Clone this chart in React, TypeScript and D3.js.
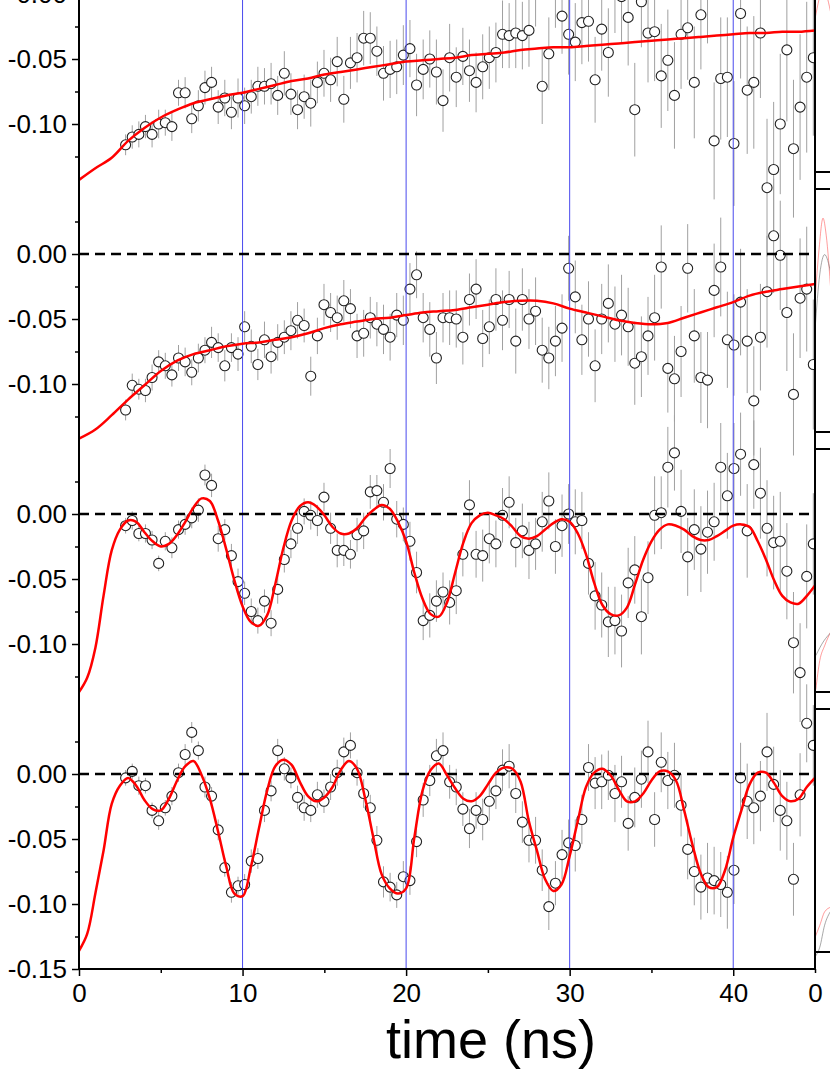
import React, { useEffect, useRef } from "react";
import * as d3 from "d3";

const WIDTH = 830;
const HEIGHT = 1075;
const FONT = "Liberation Sans, Arial, Helvetica, sans-serif";

// delay of the first measured point and spacing of the points (ns)
const T_FIRST = 2.85;
const T_STEP = 0.4043;

// measured points, one array per panel (top to bottom)
const data1 = [
  -0.116, -0.110, -0.108, -0.102, -0.108, -0.100, -0.099, -0.102, -0.076, -0.076,
  -0.096, -0.086, -0.072, -0.068, -0.087, -0.080, -0.091, -0.080, -0.086, -0.079,
  -0.071, -0.071, -0.069, -0.078, -0.061, -0.077, -0.089, -0.079, -0.084, -0.068,
  -0.061, -0.066, -0.052, -0.081, -0.053, -0.049, -0.034, -0.034, -0.044, -0.061,
  -0.058, -0.056, -0.047, -0.042, -0.070, -0.058, -0.050, -0.060, -0.082, -0.049,
  -0.064, -0.048, -0.059, -0.068, -0.056, -0.049, -0.045, -0.031, -0.032, -0.030,
  -0.032, -0.028, 0.002, -0.071, -0.046, 0.004, -0.017, -0.031, -0.037, -0.022,
  -0.021, -0.066, -0.027, -0.045, 0.003, -0.002, -0.018, -0.089, -0.006, -0.030,
  -0.029, -0.063, -0.051, -0.078, -0.031, -0.026, -0.068, -0.016, 0.006, -0.113,
  -0.065, -0.064, -0.115, -0.015, -0.074, -0.068, -0.030, -0.149, -0.135, -0.100,
  -0.043, -0.119, -0.087, -0.064, -0.049,
];
const data2 = [
  -0.120, -0.101, -0.104, -0.105, -0.095, -0.083, -0.086, -0.093, -0.080, -0.083,
  -0.091, -0.080, -0.074, -0.068, -0.072, -0.086, -0.072, -0.077, -0.056, -0.071,
  -0.085, -0.066, -0.079, -0.068, -0.064, -0.059, -0.051, -0.055, -0.094, -0.063,
  -0.039, -0.045, -0.049, -0.036, -0.042, -0.063, -0.061, -0.049, -0.054, -0.058,
  -0.064, -0.047, -0.051, -0.027, -0.016, -0.049, -0.058, -0.080, -0.049, -0.049,
  -0.050, -0.064, -0.035, -0.027, -0.065, -0.056, -0.035, -0.051, -0.035, -0.067,
  -0.035, -0.050, -0.044, -0.074, -0.080, -0.067, -0.057, -0.011, -0.033, -0.066,
  -0.050, -0.086, -0.050, -0.038, -0.054, -0.047, -0.056, -0.084, -0.079, -0.063,
  -0.049, -0.010, -0.088, -0.096, -0.075, -0.011, -0.063, -0.095, -0.097, -0.028,
  -0.010, -0.066, -0.070, -0.037, -0.067, -0.113, -0.064, -0.029, 0.014, -0.001,
  -0.045, -0.108, -0.034, -0.027, -0.085,
];
const data3 = [
  -0.009, -0.005, -0.015, -0.015, -0.020, -0.038, -0.021, -0.026, -0.012, -0.008,
  -0.003, 0.003, 0.030, 0.022, -0.019, -0.012, -0.032, -0.052, -0.061, -0.075,
  -0.082, -0.067, -0.084, -0.058, -0.035, -0.023, -0.011, 0.002, -0.001, -0.005,
  0.013, -0.011, -0.028, -0.028, -0.031, -0.016, -0.013, 0.017, 0.018, 0.009,
  0.035, -0.004, -0.008, -0.021, -0.045, -0.082, -0.078, -0.067, -0.060, -0.068,
  -0.059, -0.031, 0.007, -0.031, -0.032, -0.019, -0.023, -0.001, 0.009, -0.022,
  -0.013, -0.028, -0.023, -0.006, 0.010, -0.025, -0.009, 0.000, -0.006, -0.005,
  -0.038, -0.063, -0.070, -0.083, -0.082, -0.090, -0.053, -0.043, -0.079, -0.049,
  -0.001, 0.001, 0.036, 0.047, 0.002, -0.033, -0.012, -0.027, -0.014, -0.006,
  0.036, 0.014, 0.035, 0.046, -0.013, 0.038, 0.016, -0.011, -0.022, -0.021,
  -0.044, -0.099, -0.122, -0.048, -0.023,
];
const data4 = [
  -0.003, 0.002, -0.009, -0.009, -0.028, -0.036, -0.026, -0.017, 0.001, 0.015,
  0.032, 0.018, -0.010, -0.017, -0.043, -0.072, -0.091, -0.086, -0.085, -0.067,
  -0.065, -0.028, -0.013, 0.018, 0.004, -0.003, -0.018, -0.026, -0.028, -0.016,
  -0.021, -0.010, 0.001, 0.017, 0.022, 0.001, -0.015, -0.026, -0.051, -0.083,
  -0.087, -0.093, -0.079, -0.082, -0.052, -0.020, -0.005, 0.014, 0.018, -0.006,
  -0.010, -0.027, -0.042, -0.028, -0.035, -0.021, -0.013, 0.003, 0.006, -0.015,
  -0.037, -0.051, -0.051, -0.074, -0.102, -0.084, -0.062, -0.053, -0.055, -0.035,
  0.005, -0.007, -0.006, -0.001, -0.015, -0.006, -0.038, -0.018, -0.004, 0.017,
  -0.035, 0.009, -0.005, -0.001, -0.024, -0.058, -0.075, -0.087, -0.080, -0.082,
  -0.085, -0.091, -0.074, -0.003, -0.021, -0.026, -0.017, 0.017, -0.008, -0.028,
  -0.036, -0.081, -0.016, 0.039, 0.022,
];

// error bar half-lengths
const err1 = [
  0.008, 0.009, 0.010, 0.009, 0.010, 0.011, 0.010, 0.011, 0.010, 0.012,
  0.011, 0.012, 0.013, 0.012, 0.013, 0.014, 0.013, 0.015, 0.014, 0.013,
  0.015, 0.014, 0.016, 0.015, 0.017, 0.016, 0.015, 0.017, 0.018, 0.016,
  0.018, 0.017, 0.019, 0.018, 0.020, 0.019, 0.021, 0.020, 0.019, 0.021,
  0.022, 0.021, 0.023, 0.022, 0.024, 0.023, 0.022, 0.025, 0.024, 0.026,
  0.023, 0.022, 0.024, 0.023, 0.025, 0.024, 0.023, 0.026, 0.025, 0.027,
  0.026, 0.028, 0.027, 0.029, 0.028, 0.030, 0.029, 0.031, 0.030, 0.032,
  0.031, 0.033, 0.032, 0.034, 0.033, 0.035, 0.037, 0.036, 0.035, 0.038,
  0.038, 0.040, 0.039, 0.041, 0.042, 0.040, 0.043, 0.042, 0.044, 0.045,
  0.047, 0.046, 0.048, 0.050, 0.049, 0.051, 0.050, 0.053, 0.052, 0.054,
  0.055, 0.053, 0.056, 0.058, 0.060,
];
const err2 = [
  0.008, 0.009, 0.008, 0.009, 0.010, 0.009, 0.010, 0.009, 0.010, 0.011,
  0.010, 0.011, 0.010, 0.012, 0.011, 0.012, 0.011, 0.013, 0.012, 0.013,
  0.012, 0.014, 0.013, 0.014, 0.013, 0.015, 0.014, 0.013, 0.015, 0.014,
  0.016, 0.015, 0.017, 0.016, 0.015, 0.017, 0.018, 0.016, 0.017, 0.019,
  0.018, 0.017, 0.019, 0.020, 0.018, 0.019, 0.021, 0.020, 0.019, 0.021,
  0.022, 0.021, 0.020, 0.023, 0.022, 0.021, 0.024, 0.023, 0.022, 0.025,
  0.024, 0.023, 0.026, 0.025, 0.024, 0.027, 0.026, 0.025, 0.028, 0.027,
  0.029, 0.028, 0.027, 0.030, 0.029, 0.031, 0.030, 0.032, 0.031, 0.030,
  0.033, 0.032, 0.034, 0.033, 0.035, 0.034, 0.036, 0.035, 0.037, 0.036,
  0.038, 0.037, 0.039, 0.041, 0.040, 0.042, 0.041, 0.043, 0.044, 0.042,
  0.045, 0.047, 0.046, 0.048, 0.050,
];
const err3 = [
  0.006, 0.007, 0.006, 0.007, 0.007, 0.006, 0.007, 0.008, 0.007, 0.008,
  0.008, 0.009, 0.008, 0.009, 0.010, 0.008, 0.009, 0.010, 0.009, 0.010,
  0.010, 0.009, 0.010, 0.011, 0.010, 0.011, 0.012, 0.010, 0.011, 0.012,
  0.011, 0.012, 0.013, 0.012, 0.011, 0.013, 0.014, 0.013, 0.012, 0.014,
  0.015, 0.014, 0.013, 0.015, 0.016, 0.015, 0.017, 0.016, 0.015, 0.017,
  0.018, 0.017, 0.019, 0.018, 0.020, 0.019, 0.018, 0.021, 0.020, 0.019,
  0.021, 0.022, 0.020, 0.023, 0.022, 0.021, 0.024, 0.023, 0.025, 0.022,
  0.024, 0.026, 0.025, 0.027, 0.026, 0.028, 0.027, 0.026, 0.029, 0.028,
  0.030, 0.028, 0.031, 0.029, 0.032, 0.030, 0.031, 0.033, 0.032, 0.030,
  0.034, 0.033, 0.035, 0.032, 0.036, 0.034, 0.035, 0.037, 0.036, 0.038,
  0.037, 0.039, 0.038, 0.040, 0.039,
];
const err4 = [
  0.006, 0.006, 0.007, 0.006, 0.006, 0.007, 0.006, 0.007, 0.007, 0.008,
  0.008, 0.007, 0.008, 0.007, 0.008, 0.007, 0.008, 0.007, 0.008, 0.009,
  0.008, 0.009, 0.008, 0.009, 0.009, 0.008, 0.009, 0.010, 0.009, 0.010,
  0.009, 0.010, 0.010, 0.011, 0.010, 0.010, 0.011, 0.010, 0.011, 0.012,
  0.011, 0.010, 0.012, 0.011, 0.012, 0.013, 0.012, 0.013, 0.014, 0.013,
  0.014, 0.013, 0.015, 0.014, 0.016, 0.015, 0.014, 0.016, 0.017, 0.015,
  0.016, 0.017, 0.018, 0.016, 0.018, 0.017, 0.019, 0.018, 0.020, 0.019,
  0.018, 0.020, 0.021, 0.019, 0.022, 0.020, 0.021, 0.023, 0.022, 0.024,
  0.021, 0.023, 0.022, 0.025, 0.024, 0.023, 0.026, 0.025, 0.027, 0.026,
  0.025, 0.028, 0.026, 0.027, 0.029, 0.028, 0.027, 0.030, 0.029, 0.031,
  0.030, 0.028, 0.032, 0.030, 0.031,
];

// fitted curves: panels 1-2 read every 1 ns, panels 3-4 every 0.5 ns, from t = 0
const fit1 = [
  -0.143, -0.134, -0.126, -0.113, -0.103, -0.095, -0.089, -0.084, -0.081, -0.078,
  -0.076, -0.073, -0.070, -0.067, -0.065, -0.062, -0.060, -0.058, -0.056, -0.054,
  -0.052, -0.051, -0.050, -0.049, -0.047, -0.046, -0.045, -0.043, -0.042, -0.041,
  -0.041, -0.040, -0.039, -0.038, -0.037, -0.036, -0.035, -0.034, -0.033, -0.032,
  -0.031, -0.030, -0.030, -0.029, -0.029, -0.028,
];
const fit2 = [
  -0.142, -0.135, -0.124, -0.112, -0.101, -0.090, -0.082, -0.077, -0.074, -0.071,
  -0.069, -0.068, -0.066, -0.064, -0.061, -0.057, -0.054, -0.052, -0.050, -0.049,
  -0.047, -0.045, -0.044, -0.043, -0.041, -0.039, -0.037, -0.036, -0.036, -0.038,
  -0.042, -0.045, -0.048, -0.051, -0.053, -0.054, -0.053, -0.049, -0.045, -0.041,
  -0.037, -0.032, -0.029, -0.027, -0.025, -0.023,
];
const fit3 = [
  -0.137, -0.126, -0.103, -0.063, -0.028, -0.012, -0.005, -0.006, -0.014, -0.021,
  -0.025, -0.023, -0.016, -0.006, 0.005, 0.012, 0.010, -0.005, -0.027, -0.051,
  -0.071, -0.083, -0.086, -0.078, -0.054, -0.026, -0.005, 0.006, 0.009, 0.006,
  -0.001, -0.010, -0.015, -0.015, -0.011, -0.003, 0.003, 0.007, 0.004, -0.006,
  -0.021, -0.045, -0.065, -0.077, -0.079, -0.068, -0.045, -0.022, -0.007, -0.001,
  0.001, -0.001, -0.004, -0.010, -0.017, -0.019, -0.017, -0.012, -0.007, -0.004,
  -0.006, -0.015, -0.031, -0.053, -0.070, -0.077, -0.078, -0.072, -0.054, -0.035,
  -0.021, -0.012, -0.008, -0.009, -0.012, -0.017, -0.020, -0.020, -0.017, -0.013,
  -0.009, -0.008, -0.010, -0.021, -0.035, -0.051, -0.063, -0.068, -0.069, -0.063,
  -0.055,
];
const fit4 = [
  -0.136, -0.123, -0.092, -0.059, -0.023, -0.009, -0.003, -0.009, -0.020, -0.027,
  -0.028, -0.019, -0.005, 0.006, 0.010, -0.001, -0.019, -0.044, -0.071, -0.092,
  -0.094, -0.072, -0.042, -0.013, 0.006, 0.011, 0.007, -0.006, -0.017, -0.021,
  -0.018, -0.010, 0.003, 0.010, 0.004, -0.019, -0.049, -0.077, -0.088, -0.092,
  -0.088, -0.049, -0.013, 0.003, 0.008, -0.001, -0.011, -0.019, -0.021, -0.017,
  -0.008, 0.001, 0.005, 0.004, -0.006, -0.036, -0.059, -0.081, -0.090, -0.085,
  -0.063, -0.036, -0.010, 0.001, 0.004, -0.001, -0.012, -0.021, -0.021, -0.015,
  -0.005, 0.002, 0.002, -0.005, -0.028, -0.054, -0.076, -0.087, -0.087, -0.074,
  -0.049, -0.028, -0.008, 0.001, 0.001, -0.007, -0.017, -0.021, -0.019, -0.010,
  -0.003,
];

const xMajor = [0, 10, 20, 30, 40];
const xMinor = [5, 15, 25, 35, 45];
const gridTimes = [10, 20, 30, 40];
const yMajor = [-0.1, -0.05, 0];
const yMinor = [-0.125, -0.075, -0.025, 0.025];

// bit of the neighbouring plot showing at the right edge: [x, y] in its own 0..1 units
const nbPink = [
  [[0, 0.63], [0.25, 0.71], [0.5, 0.77], [0.8, 0.71], [1, 0.65]],
  [[0, 0.54], [0.25, 0.75], [0.5, 0.88], [0.7, 0.81], [1, 0.57]],
  [[0.05, 0.01], [0.3, 0.13], [0.6, 0.19], [1, 0.25]],
  [[0, 0.06], [0.3, 0.11], [0.6, 0.165], [1, 0.185]],
];
const nbGray = [
  [],
  [[0, 0.42], [0.3, 0.65], [0.6, 0.73], [1, 0.65]],
  [[0.05, 0.15], [0.55, 0.21], [1, 0.245]],
  [[0, -0.02], [0.3, 0.02], [0.6, 0.11], [1, 0.17]],
];

const App = () => {
  const svgRef = useRef(null);

  useEffect(() => {
    const svg = d3.select(svgRef.current);
    svg.selectAll("*").remove();

    const x = d3.scaleLinear().domain([0, 45]).range([79, 815]);
    const panelH = 260;
    // each panel spans -0.15..0.05, stacked with no gap
    const yPanel = (p) =>
      d3.scaleLinear().domain([-0.15, 0.05])
        .range([969 - panelH * (3 - p), 709 - panelH * (3 - p)]);

    const times = d3.range(data1.length).map((i) => T_FIRST + i * T_STEP);
    const panels = [
      { vals: data1, errs: err1, fit: fit1, step: 1 },
      { vals: data2, errs: err2, fit: fit2, step: 1 },
      { vals: data3, errs: err3, fit: fit3, step: 0.5 },
      { vals: data4, errs: err4, fit: fit4, step: 0.5 },
    ];

    svg.append("rect").attr("width", WIDTH).attr("height", HEIGHT).attr("fill", "#fff");

    svg.append("defs").append("clipPath").attr("id", "plot-clip")
      .append("rect").attr("x", 79).attr("y", -300).attr("width", 736).attr("height", 1269);

    const plot = svg.append("g").attr("clip-path", "url(#plot-clip)");

    // error bars first, so every circle sits above them
    panels.forEach((pn, p) => {
      const y = yPanel(p);
      plot.append("g")
        .selectAll("line")
        .data(pn.vals)
        .join("line")
        .attr("x1", (d, i) => x(times[i]))
        .attr("x2", (d, i) => x(times[i]))
        .attr("y1", (d, i) => y(d - pn.errs[i]))
        .attr("y2", (d, i) => y(d + pn.errs[i]))
        .attr("stroke", "#a0a0a0")
        .attr("stroke-width", 1);
    });

    panels.forEach((pn, p) => {
      const y = yPanel(p);
      plot.append("g")
        .selectAll("circle")
        .data(pn.vals)
        .join("circle")
        .attr("cx", (d, i) => x(times[i]))
        .attr("cy", (d) => y(d))
        .attr("r", 5)
        .attr("fill", "#fff")
        .attr("stroke", "#222")
        .attr("stroke-width", 1.1);
    });

    // vertical guide lines
    plot.selectAll(".grid")
      .data(gridTimes)
      .join("line")
      .attr("class", "grid")
      .attr("x1", (d) => x(d))
      .attr("x2", (d) => x(d))
      .attr("y1", 0)
      .attr("y2", 969)
      .attr("stroke", "#4a4aee")
      .attr("stroke-width", 1);

    panels.forEach((pn, p) => {
      const y = yPanel(p);
      // dashed zero line
      plot.append("line")
        .attr("x1", x(0)).attr("x2", x(45))
        .attr("y1", y(0)).attr("y2", y(0))
        .attr("stroke", "#000")
        .attr("stroke-width", 2.5)
        .attr("stroke-dasharray", "10,6");

      const fitT = d3.range(pn.fit.length).map((i) => i * pn.step);
      const line = d3.line()
        .x((d, i) => x(fitT[i]))
        .y((d) => y(d))
        .curve(d3.curveCatmullRom.alpha(0.5));
      plot.append("path")
        .datum(pn.fit)
        .attr("fill", "none")
        .attr("stroke", "#ff0000")
        .attr("stroke-width", 2.5)
        .attr("d", line);
    });

    // left axis: one tick set per panel
    panels.forEach((pn, p) => {
      const y = yPanel(p);
      const major = p === 3 ? [-0.15, ...yMajor] : yMajor;
      svg.append("g")
        .attr("transform", "translate(79,0)")
        .call(d3.axisLeft(y).tickValues(major).tickSize(7).tickPadding(5)
          .tickFormat((d) => d.toFixed(2)))
        .call((g) => g.select(".domain").remove())
        .attr("font-size", 26)
        .attr("font-family", FONT)
        .call((g) => g.selectAll("line").attr("stroke-width", 1.5));
      svg.append("g")
        .attr("transform", "translate(79,0)")
        .call(d3.axisLeft(y).tickValues(yMinor).tickSize(4).tickFormat(() => ""))
        .call((g) => g.select(".domain").remove())
        .call((g) => g.selectAll("line").attr("stroke-width", 1.5));
    });

    // bottom axis
    svg.append("g")
      .attr("transform", "translate(0,969)")
      .call(d3.axisBottom(x).tickValues(xMajor).tickSize(7).tickPadding(8)
        .tickFormat(d3.format("d")))
      .call((g) => g.select(".domain").remove())
      .attr("font-size", 26)
      .attr("font-family", FONT)
      .call((g) => g.selectAll("line").attr("stroke-width", 1.5));
    svg.append("g")
      .attr("transform", "translate(0,969)")
      .call(d3.axisBottom(x).tickValues(xMinor).tickSize(4).tickFormat(() => ""))
      .call((g) => g.select(".domain").remove())
      .call((g) => g.selectAll("line").attr("stroke-width", 1.5));

    // frame lines
    const frame = svg.append("g").attr("stroke", "#000").attr("stroke-width", 2);
    frame.append("line").attr("x1", 79).attr("x2", 79).attr("y1", 0).attr("y2", 970);
    frame.append("line").attr("x1", 78).attr("x2", 815).attr("y1", 969).attr("y2", 969);
    frame.append("line").attr("x1", 815).attr("x2", 815).attr("y1", 0).attr("y2", 970);

    // neighbouring plot cut off at the right edge
    const nbX = d3.scaleLinear().domain([0, 1]).range([815, 831]);
    svg.append("defs").append("clipPath").attr("id", "nb-clip")
      .append("rect").attr("x", 816).attr("y", 0).attr("width", 20).attr("height", 969);
    const nb = svg.append("g").attr("clip-path", "url(#nb-clip)");
    panels.forEach((pn, p) => {
      const top = 709 - panelH * (3 - p);
      const bottom = 952 - panelH * (3 - p);
      const nbY = d3.scaleLinear().domain([0, 1]).range([bottom, top]);
      const nbLine = d3.line().x((d) => nbX(d[0])).y((d) => nbY(d[1])).curve(d3.curveMonotoneX);
      nb.append("path").datum(nbPink[p]).attr("fill", "none")
        .attr("stroke", "rgba(255,60,60,0.5)").attr("stroke-width", 1).attr("d", nbLine);
      if (nbGray[p].length) {
        nb.append("path").datum(nbGray[p]).attr("fill", "none")
          .attr("stroke", "rgba(110,110,110,0.6)").attr("stroke-width", 1).attr("d", nbLine);
      }
      [top, bottom].forEach((yy) => {
        svg.append("line")
          .attr("x1", 815).attr("x2", 830)
          .attr("y1", yy).attr("y2", yy)
          .attr("stroke", "#000").attr("stroke-width", 2);
      });
    });
    svg.append("g")
      .attr("transform", "translate(0,969)")
      .call(d3.axisBottom(nbX).tickValues([0]).tickSize(0).tickPadding(15)
        .tickFormat(d3.format("d")))
      .call((g) => g.select(".domain").remove())
      .attr("font-size", 26)
      .attr("font-family", FONT);

    // axis title
    svg.append("text")
      .attr("x", 491)
      .attr("y", 1058)
      .attr("text-anchor", "middle")
      .attr("font-family", FONT)
      .attr("font-size", 54)
      .text("time (ns)");

    return () => {
      svg.selectAll("*").remove();
    };
  }, []);

  return (
    <svg
      ref={svgRef}
      width={WIDTH}
      height={HEIGHT}
      style={{ position: "absolute", left: 0, top: 0, display: "block" }}
    />
  );
};

export default App;
